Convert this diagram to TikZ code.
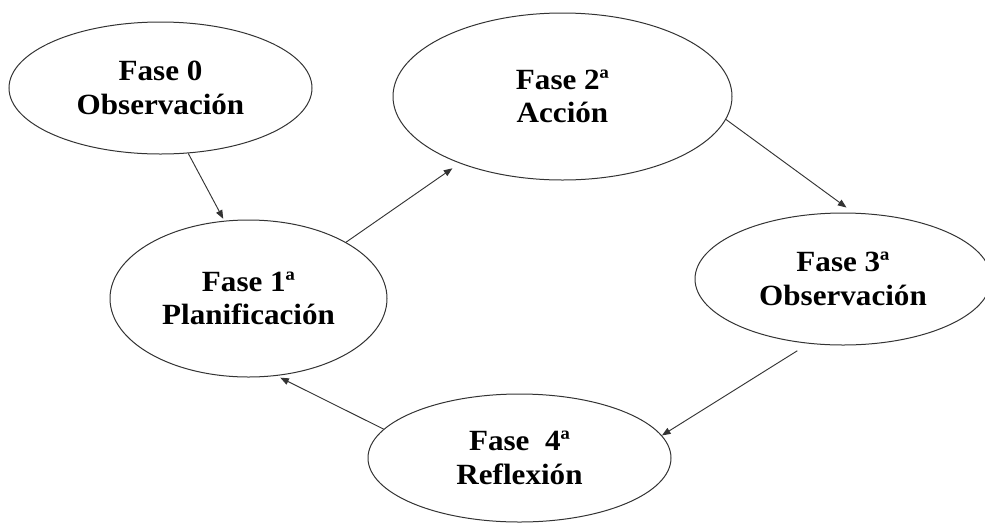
\documentclass[tikz,border=0pt]{standalone}
\usepackage{fontspec}
\setmainfont{Liberation Serif}[FakeStretch=1.06]
\usetikzlibrary{shapes.geometric,arrows.meta}
\begin{document}
\begin{tikzpicture}[x=0.75pt,y=-0.75pt,
  phase/.style={draw=black!80,line width=0.75pt,ellipse,inner sep=0pt,
    align=center,font=\fontsize{22}{25}\selectfont\bfseries},
  link/.style={draw=black!80,line width=0.7pt,
    -{Triangle[length=6.5pt,width=5pt]}}]
\useasboundingbox (0,0) rectangle (985,522);
% the five phases of the cycle
\node[phase,minimum width=303*0.75pt,minimum height=132*0.75pt] (f0) at (160.5,88)
  {Fase 0\\Observación};
\node[phase,minimum width=339*0.75pt,minimum height=167*0.75pt] (f2) at (562.5,96.5)
  {Fase 2ª\\Acción};
\node[phase,minimum width=277*0.75pt,minimum height=157*0.75pt] (f1) at (248.5,298.5)
  {Fase 1ª\\Planificación};
\node[phase,minimum width=296*0.75pt,minimum height=132*0.75pt] (f3) at (843,279)
  {Fase 3ª\\Observación};
\node[phase,minimum width=303*0.75pt,minimum height=128*0.75pt] (f4) at (519.5,458)
  {Fase\ \ 4ª\\Reflexión};
% arrows between phases
\draw[link] (f0.-67) -- ([shift={(0,1.5pt)}]f1.108);
\draw[link,shorten >=6.5pt] (f1.30) -- (f2.213);
\draw[link,shorten >=6.5pt] (f2.-8) -- (f3.81);
\draw[link,shorten <=10pt] (f3.242) -- (f4.9);
\draw[link,shorten >=3pt] (f4.168) -- (f1.-70);
\end{tikzpicture}
\end{document}
